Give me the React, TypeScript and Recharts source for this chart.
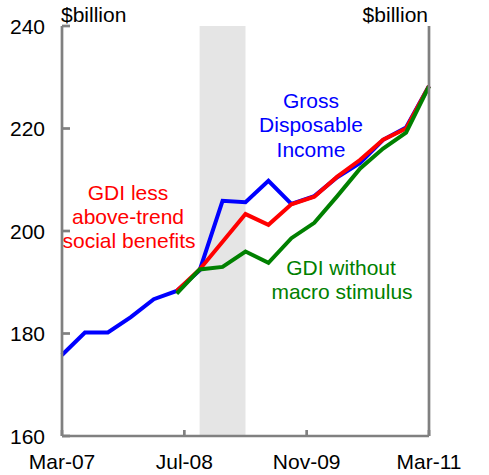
import { LineChart, Line, XAxis, YAxis, ReferenceArea, Customized } from 'recharts';

// quarterly observations, x = months since Mar-07
const months = [0, 3, 6, 9, 12, 15, 18, 21, 24, 27, 30, 33, 36, 39, 42, 45, 48];
const gdi = [175.8, 180.2, 180.2, 183.2, 186.7, 188.3, 192.3, 205.9, 205.6, 209.8, 205.3, 206.8, 210.5, 213.3, 217.8, 220.2, 228.3];
const gdiLessBenefits = [null, null, null, null, null, 188.3, 192.5, 197.9, 203.3, 201.2, 205.2, 206.7, 210.6, 213.9, 217.8, 220.0, 228.3];
const gdiNoStimulus = [null, null, null, null, null, 187.8, 192.5, 193.0, 196.0, 193.8, 198.6, 201.6, 206.8, 212.2, 216.1, 219.2, 228.2];

const xTicks = [0, 16, 32, 48];
const xTickLabels = ['Mar-07', 'Jul-08', 'Nov-09', 'Mar-11'];
const yTicks = [160, 180, 200, 220, 240];

// shaded period (Sep-08 to Mar-09)
const shadeFrom = 18;
const shadeTo = 24;

const data = months.map((m, i) => ({
  m,
  gdi: gdi[i],
  less: gdiLessBenefits[i],
  noStim: gdiNoStimulus[i],
}));

const FONT = '"Liberation Sans", Arial, sans-serif';
const AXIS = '#808080';
const AXIS_W = 2.7;
const LINE_W = 4;
const FS = 21;

const LeftTick = (props: any) => {
  const { x, y, payload } = props;
  const ax = x + 17;
  return (
    <g>
      <line x1={ax} x2={ax + 8} y1={y} y2={y} stroke={AXIS} strokeWidth={AXIS_W} />
      <text x={x} y={y} dy="0.36em" textAnchor="end" fontSize={FS} fontFamily={FONT} fill="#000">
        {payload.value}
      </text>
    </g>
  );
};

const RightTick = (props: any) => {
  const { x, y, payload } = props;
  const ax = x - 21;
  return (
    <g>
      <line x1={ax} x2={ax - 8} y1={y} y2={y} stroke={AXIS} strokeWidth={AXIS_W} />
      <text x={x} y={y} dy="0.36em" textAnchor="start" fontSize={FS} fontFamily={FONT} fill="#000">
        {payload.value}
      </text>
    </g>
  );
};

const BottomTick = (props: any) => {
  const { x, y, payload } = props;
  const ay = y - 18;
  const idx = xTicks.indexOf(payload.value);
  return (
    <g>
      <line x1={x} x2={x} y1={ay} y2={ay - 6} stroke={AXIS} strokeWidth={AXIS_W} />
      <text x={x} y={y} dy="0.72em" textAnchor="middle" fontSize={FS} fontFamily={FONT} fill="#000">
        {xTickLabels[idx]}
      </text>
    </g>
  );
};

const Notes = () => (
  <g fontFamily={FONT} fontSize={FS}>
    <text x={61} y={22} fill="#000">$billion</text>
    <text x={428} y={22} textAnchor="end" fill="#000">$billion</text>
    <g fill="#0000FF" textAnchor="middle">
      <text x={311} y={108}>Gross</text>
      <text x={311} y={132}>Disposable</text>
      <text x={311} y={157}>Income</text>
    </g>
    <g fill="#FF0000" textAnchor="middle">
      <text x={128} y={200}>GDI less</text>
      <text x={128} y={224}>above-trend</text>
      <text x={129} y={248}>social benefits</text>
    </g>
    <g fill="#008000" textAnchor="middle">
      <text x={341} y={275}>GDI without</text>
      <text x={342} y={299}>macro stimulus</text>
    </g>
  </g>
);

export default function App() {
  return (
    <div style={{ position: 'absolute', left: 0, top: 0, background: '#fff' }}>
      <LineChart width={489} height={475} data={data} margin={{ top: 26, right: 0, left: 0, bottom: 0 }}>
        <XAxis
          dataKey="m"
          type="number"
          domain={[0, 48]}
          ticks={xTicks}
          height={39}
          tickSize={0}
          tickMargin={18}
          tickLine={false}
          axisLine={{ stroke: AXIS, strokeWidth: AXIS_W }}
          tick={<BottomTick />}
          interval={0}
        />
        <YAxis
          yAxisId="left"
          domain={[160, 240]}
          ticks={yTicks}
          width={62}
          tickSize={0}
          tickMargin={17}
          tickLine={false}
          axisLine={{ stroke: AXIS, strokeWidth: AXIS_W }}
          tick={<LeftTick />}
          interval={0}
        />
        <YAxis
          yAxisId="right"
          orientation="right"
          domain={[160, 240]}
          ticks={yTicks}
          width={60}
          tickSize={0}
          tickMargin={21}
          tickLine={false}
          axisLine={{ stroke: AXIS, strokeWidth: AXIS_W }}
          tick={<RightTick />}
          interval={0}
        />
        <ReferenceArea yAxisId="left" x1={shadeFrom} x2={shadeTo} y1={160} y2={240} fill="#E5E5E5" fillOpacity={1} stroke="none" />
        <Line yAxisId="left" dataKey="gdi" stroke="#0000FF" strokeWidth={LINE_W} dot={false} isAnimationActive={false} />
        <Line yAxisId="left" dataKey="less" stroke="#FF0000" strokeWidth={LINE_W} dot={false} isAnimationActive={false} />
        <Line yAxisId="left" dataKey="noStim" stroke="#008000" strokeWidth={LINE_W} dot={false} isAnimationActive={false} />
        <Customized component={Notes} />
      </LineChart>
    </div>
  );
}
